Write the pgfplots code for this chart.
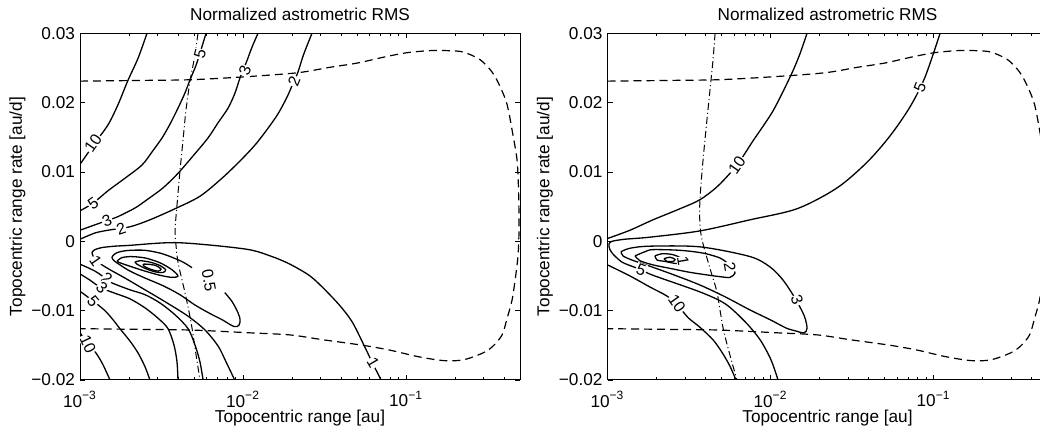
\documentclass[border=0pt]{standalone}
\usepackage{fontspec}
\setmainfont{Liberation Sans}
\usepackage{pgfplots}
\pgfplotsset{compat=1.18}
\newcommand{\fs}{\fontsize{8.6}{10}\selectfont}
\tikzset{
  dsh/.style={black, solid, dash pattern=on 4pt off 2.5pt, line width=0.6pt},
  ddt/.style={black, solid, dash pattern=on 3.5pt off 1.5pt on 0.5pt off 1.5pt, line width=0.5pt},
  clab/.style={font=\fontsize{8}{9}\selectfont, fill=white, inner sep=0.4pt},
}
\pgfplotsset{
  rms/.style={
    scale only axis, width=220pt, height=173.35pt,
    xmin=-3, xmax=-0.30103, ymin=-0.02, ymax=0.03,
    xtick={-3,-2,-1},
    xticklabels={10\textsuperscript{−3},10\textsuperscript{−2},10\textsuperscript{−1}},
    minor xtick={-2.699,-2.523,-2.398,-2.301,-2.222,-2.155,-2.097,-2.046,-1.699,-1.523,-1.398,-1.301,-1.222,-1.155,-1.097,-1.046,-0.699,-0.523,-0.398},
    ytick={-0.02,-0.01,0,0.01,0.02,0.03},
    yticklabels={−0.02,−0.01,0,0.01,0.02,0.03},
    scaled y ticks=false,
    tick align=inside, major tick length=2.5pt, minor tick length=1.5pt,
    tick style={black, line width=0.4pt},
    axis line style={line width=0.5pt},
    ticklabel style={font=\fs},
    xticklabel style={yshift=-2pt},
    yticklabel style={xshift=1pt},
    every axis title shift=0pt,
    title={Normalized astrometric RMS},
    title style={font=\fs, at={(axis description cs:0.5,1.056)}, anchor=center},
    xlabel={Topocentric range [au]},
    xlabel style={font=\fs, at={(axis description cs:0.5,-0.111)}, anchor=center},
    ylabel={Topocentric range rate [au/d]},
    ylabel style={font=\fs, at={(axis description cs:-0.142,0.5)}, anchor=center},
    cycle list={{black,solid}},
    every axis plot/.append style={line width=0.65pt, no marks, smooth},
  },
}
\begin{document}
\begin{tikzpicture}[x=1pt,y=1pt]
\useasboundingbox (0,0) rectangle (520,215.5);
\clip (0,0) rectangle (520,215.5);
% ---------------- left panel
\begin{axis}[rms, at={(40pt,25.5pt)}, anchor=south west]
\addplot[dsh] coordinates {(-3.000,0.0231)(-2.632,0.0232)(-2.325,0.0233)(-2.006,0.0237)(-1.669,0.0243)(-1.466,0.0251)(-1.301,0.0257)(-1.129,0.0266)(-0.994,0.0272)(-0.853,0.0275)(-0.748,0.0275)(-0.650,0.0273)(-0.546,0.0262)(-0.472,0.0244)(-0.423,0.0223)(-0.380,0.0197)(-0.344,0.0153)(-0.319,0.0117)(-0.310,0.0074)(-0.307,0.0019)(-0.313,-0.0020)(-0.331,-0.0056)(-0.350,-0.0085)(-0.380,-0.0111)(-0.411,-0.0135)(-0.466,-0.0151)(-0.528,-0.0161)(-0.650,-0.0171)(-0.773,-0.0172)(-0.933,-0.0166)(-1.098,-0.0157)(-1.264,-0.0150)(-1.509,-0.0142)(-1.712,-0.0135)(-1.957,-0.0132)(-2.313,-0.0128)(-2.632,-0.0127)(-3.000,-0.0126)};
\addplot[ddt] coordinates {(-2.276,0.0300)(-2.301,0.0261)(-2.325,0.0231)(-2.350,0.0189)(-2.368,0.0146)(-2.387,0.0101)(-2.405,0.0052)(-2.417,0.0016)(-2.411,-0.0006)(-2.399,-0.0030)(-2.374,-0.0056)(-2.356,-0.0074)(-2.331,-0.0102)(-2.313,-0.0125)(-2.288,-0.0164)(-2.264,-0.0200)};
% upper contours 10,5,3,2
\addplot coordinates {(-3.000,0.0111)(-2.908,0.0142)(-2.828,0.0168)(-2.767,0.0197)(-2.706,0.0232)(-2.644,0.0264)(-2.589,0.0300)};
\addplot coordinates {(-3.000,0.0044)(-2.920,0.0055)(-2.828,0.0073)(-2.724,0.0091)(-2.620,0.0110)(-2.558,0.0129)(-2.497,0.0149)(-2.448,0.0169)(-2.399,0.0192)(-2.356,0.0214)(-2.325,0.0233)(-2.288,0.0254)(-2.258,0.0276)(-2.227,0.0300)};
\addplot coordinates {(-3.000,0.0016)(-2.834,0.0030)(-2.773,0.0035)(-2.663,0.0048)(-2.589,0.0060)(-2.491,0.0077)(-2.399,0.0098)(-2.307,0.0123)(-2.215,0.0149)(-2.153,0.0171)(-2.092,0.0192)(-2.049,0.0214)(-2.018,0.0236)(-1.975,0.0261)(-1.945,0.0280)(-1.908,0.0300)};
\addplot coordinates {(-3.000,0.0003)(-2.908,0.0012)(-2.828,0.0016)(-2.693,0.0021)(-2.571,0.0031)(-2.417,0.0047)(-2.264,0.0065)(-2.129,0.0091)(-2.018,0.0116)(-1.926,0.0139)(-1.847,0.0163)(-1.785,0.0184)(-1.730,0.0208)(-1.693,0.0228)(-1.663,0.0244)(-1.632,0.0267)(-1.601,0.0286)(-1.577,0.0300)};
% contour 1
\addplot coordinates {(-2.051,-0.0200)(-2.104,-0.0174)(-2.153,-0.0151)(-2.233,-0.0128)(-2.337,-0.0108)(-2.479,-0.0087)(-2.601,-0.0070)(-2.724,-0.0053)(-2.816,-0.0041)(-2.865,-0.0034)(-2.902,-0.0028)(-2.920,-0.0021)(-2.926,-0.0016)(-2.908,-0.0012)(-2.865,-0.0009)(-2.785,-0.0007)(-2.706,-0.0006)(-2.399,-0.0002)(-1.990,-0.0011)(-1.834,-0.0021)(-1.712,-0.0033)(-1.589,-0.0050)(-1.497,-0.0070)(-1.405,-0.0093)(-1.331,-0.0116)(-1.264,-0.0147)(-1.209,-0.0174)(-1.153,-0.0200)};
% lower contours 2,3,5,10
\addplot coordinates {(-3.000,-0.0033)(-2.908,-0.0043)(-2.840,-0.0054)(-2.804,-0.0060)(-2.693,-0.0070)(-2.601,-0.0077)(-2.509,-0.0089)(-2.417,-0.0106)(-2.337,-0.0126)(-2.294,-0.0150)(-2.264,-0.0174)(-2.245,-0.0200)};
\addplot coordinates {(-3.000,-0.0047)(-2.939,-0.0056)(-2.871,-0.0067)(-2.785,-0.0075)(-2.693,-0.0083)(-2.601,-0.0096)(-2.521,-0.0111)(-2.460,-0.0126)(-2.423,-0.0150)(-2.405,-0.0174)(-2.399,-0.0200)};
\addplot coordinates {(-3.000,-0.0072)(-2.920,-0.0086)(-2.847,-0.0100)(-2.798,-0.0113)(-2.755,-0.0126)(-2.693,-0.0144)(-2.644,-0.0161)(-2.601,-0.0181)(-2.571,-0.0200)};
\addplot coordinates {(-3.000,-0.0132)(-2.951,-0.0148)(-2.902,-0.0161)(-2.859,-0.0178)(-2.816,-0.0200)};
% 0.5 contour (open at its label) and inner loops
\addplot coordinates {(-2.112,-0.0074)(-2.067,-0.0087)(-2.031,-0.0103)(-2.018,-0.0113)(-2.025,-0.0121)(-2.055,-0.0123)(-2.129,-0.0113)(-2.196,-0.0105)(-2.294,-0.0092)(-2.387,-0.0077)(-2.491,-0.0064)(-2.601,-0.0053)(-2.693,-0.0043)(-2.755,-0.0034)(-2.791,-0.0028)(-2.804,-0.0023)(-2.785,-0.0018)(-2.755,-0.0015)(-2.693,-0.0013)(-2.601,-0.0013)(-2.509,-0.0017)(-2.436,-0.0023)(-2.368,-0.0030)(-2.313,-0.0038)};
\addplot coordinates {(-2.773,-0.0029)(-2.748,-0.0024)(-2.693,-0.0022)(-2.601,-0.0024)(-2.509,-0.0031)(-2.436,-0.0041)(-2.399,-0.0050)(-2.436,-0.0052)(-2.509,-0.0049)(-2.601,-0.0043)(-2.693,-0.0036)(-2.755,-0.0031)(-2.773,-0.0029)};
\addplot coordinates {(-2.663,-0.0030)(-2.632,-0.0028)(-2.571,-0.0030)(-2.509,-0.0035)(-2.475,-0.0041)(-2.491,-0.0045)(-2.540,-0.0044)(-2.601,-0.0039)(-2.650,-0.0033)(-2.663,-0.0030)};
\addplot coordinates {(-2.613,-0.0033)(-2.583,-0.0033)(-2.534,-0.0035)(-2.503,-0.0040)(-2.521,-0.0043)(-2.571,-0.0040)(-2.607,-0.0036)(-2.613,-0.0033)};
% labels
\node[clab, rotate=55] at (axis cs:-2.920,0.0142) {10};
\node[clab, rotate=35] at (axis cs:-2.920,0.0055) {5};
\node[clab, rotate=22] at (axis cs:-2.834,0.0030) {3};
\node[clab, rotate=18] at (axis cs:-2.748,0.0018) {2};
\node[clab, rotate=75] at (axis cs:-2.264,0.0270) {5};
\node[clab, rotate=70] at (axis cs:-1.988,0.0246) {3};
\node[clab, rotate=68] at (axis cs:-1.687,0.0231) {2};
\node[clab, rotate=-55] at (axis cs:-2.904,-0.0029) {1};
\node[clab, rotate=-35] at (axis cs:-2.834,-0.0054) {2};
\node[clab, rotate=-45] at (axis cs:-2.865,-0.0067) {3};
\node[clab, rotate=-50] at (axis cs:-2.920,-0.0086) {5};
\node[clab, rotate=-65] at (axis cs:-2.951,-0.0148) {10};
\node[font=\fontsize{8}{9}\selectfont, rotate=-80, inner sep=0.5pt] at (axis cs:-2.209,-0.0057) {0.5};
\node[clab, rotate=-60] at (axis cs:-1.202,-0.0175) {1};
\end{axis}
% ---------------- right panel
\begin{axis}[rms, at={(303.75pt,25.5pt)}, anchor=south west]
\addplot[dsh] coordinates {(-3.000,0.0231)(-2.632,0.0232)(-2.325,0.0233)(-2.006,0.0237)(-1.669,0.0243)(-1.466,0.0251)(-1.301,0.0257)(-1.129,0.0266)(-0.994,0.0272)(-0.853,0.0275)(-0.748,0.0275)(-0.650,0.0273)(-0.546,0.0262)(-0.472,0.0244)(-0.423,0.0223)(-0.380,0.0197)(-0.344,0.0153)(-0.319,0.0117)(-0.310,0.0074)(-0.307,0.0019)(-0.313,-0.0020)(-0.331,-0.0056)(-0.350,-0.0085)(-0.380,-0.0111)(-0.411,-0.0135)(-0.466,-0.0151)(-0.528,-0.0161)(-0.650,-0.0171)(-0.773,-0.0172)(-0.933,-0.0166)(-1.098,-0.0157)(-1.264,-0.0150)(-1.509,-0.0142)(-1.712,-0.0135)(-1.957,-0.0132)(-2.313,-0.0128)(-2.632,-0.0127)(-3.000,-0.0126)};
\addplot[ddt] coordinates {(-2.340,0.0300)(-2.353,0.0261)(-2.365,0.0233)(-2.390,0.0175)(-2.414,0.0117)(-2.433,0.0060)(-2.433,0.0024)(-2.420,0.0002)(-2.390,-0.0024)(-2.359,-0.0049)(-2.328,-0.0074)(-2.291,-0.0125)(-2.249,-0.0164)(-2.206,-0.0200)};
% contour 10 (upper and lower)
\addplot coordinates {(-3.000,0.0004)(-2.862,0.0016)(-2.721,0.0031)(-2.555,0.0047)(-2.433,0.0060)(-2.322,0.0080)(-2.206,0.0110)(-2.107,0.0145)(-1.985,0.0188)(-1.880,0.0237)(-1.825,0.0267)(-1.776,0.0300)};
\addplot coordinates {(-3.000,-0.0034)(-2.862,-0.0050)(-2.739,-0.0066)(-2.635,-0.0079)(-2.567,-0.0093)(-2.506,-0.0110)(-2.433,-0.0124)(-2.353,-0.0142)(-2.298,-0.0160)(-2.249,-0.0180)(-2.212,-0.0200)};
% contour 5 (from top edge, round its tip, to bottom edge)
\addplot coordinates {(-0.960,0.0300)(-1.052,0.0237)(-1.144,0.0194)(-1.267,0.0152)(-1.408,0.0114)(-1.592,0.0077)(-1.837,0.0047)(-2.126,0.0031)(-2.433,0.0015)(-2.739,0.0006)(-2.893,0.0003)(-2.972,0.0000)(-2.991,-0.0004)(-2.985,-0.0012)(-2.960,-0.0020)(-2.911,-0.0030)(-2.850,-0.0036)(-2.794,-0.0041)(-2.721,-0.0049)(-2.433,-0.0073)(-2.279,-0.0090)(-2.156,-0.0116)(-2.064,-0.0142)(-1.997,-0.0171)(-1.954,-0.0200)};
% contour 3
\addplot coordinates {(-2.917,-0.0015)(-2.862,-0.0010)(-2.739,-0.0007)(-2.433,-0.0008)(-2.126,-0.0022)(-2.003,-0.0037)(-1.923,-0.0056)(-1.850,-0.0082)(-1.794,-0.0107)(-1.776,-0.0125)(-1.794,-0.0132)(-1.850,-0.0129)(-1.905,-0.0125)(-2.003,-0.0113)(-2.126,-0.0099)(-2.279,-0.0080)(-2.433,-0.0063)(-2.586,-0.0049)(-2.739,-0.0036)(-2.850,-0.0027)(-2.905,-0.0021)(-2.917,-0.0015)};
% contours 2, 1 and inner
\addplot coordinates {(-2.831,-0.0021)(-2.770,-0.0015)(-2.721,-0.0012)(-2.555,-0.0013)(-2.414,-0.0017)(-2.310,-0.0024)(-2.267,-0.0031)(-2.230,-0.0039)(-2.218,-0.0046)(-2.249,-0.0052)(-2.310,-0.0051)(-2.433,-0.0047)(-2.512,-0.0044)(-2.617,-0.0039)(-2.721,-0.0034)(-2.801,-0.0028)(-2.831,-0.0021)};
\addplot coordinates {(-2.709,-0.0021)(-2.666,-0.0018)(-2.604,-0.0019)(-2.549,-0.0024)(-2.537,-0.0030)(-2.580,-0.0032)(-2.647,-0.0029)(-2.696,-0.0027)(-2.709,-0.0021)};
\addplot coordinates {(-2.653,-0.0025)(-2.617,-0.0023)(-2.586,-0.0026)(-2.598,-0.0029)(-2.635,-0.0029)(-2.653,-0.0025)};
\node[clab, rotate=55] at (axis cs:-2.206,0.0110) {10};
\node[clab, rotate=68] at (axis cs:-1.083,0.0222) {5};
\node[clab, rotate=-55] at (axis cs:-2.574,-0.0090) {10};
\node[clab, rotate=-20] at (axis cs:-2.794,-0.0041) {5};
\node[clab, rotate=-70] at (axis cs:-1.837,-0.0085) {3};
\node[clab, rotate=-80] at (axis cs:-2.249,-0.0037) {2};
\node[clab, rotate=-80] at (axis cs:-2.537,-0.0029) {1};
\end{axis}
\end{tikzpicture}
\end{document}
